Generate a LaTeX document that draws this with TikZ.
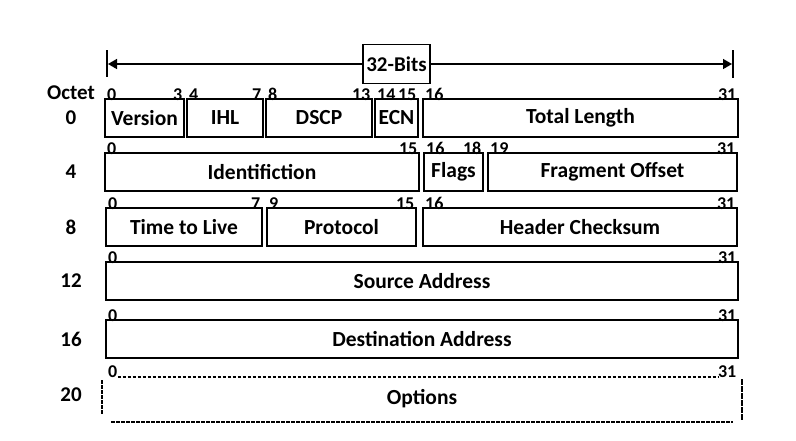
\documentclass[tikz,border=0pt]{standalone}
\usepackage{fontspec}
\setmainfont{Carlito}
\usetikzlibrary{arrows.meta,positioning}

\tikzset{
  field/.style={draw, line width=1.5pt, anchor=north west, minimum height=38,
    inner sep=0, outer sep=0, font=\fontsize{21.5}{24}\selectfont\bfseries},
  bitnum/.style={inner sep=0, yshift=-1, font=\fontsize{18}{21}\selectfont\bfseries},
  bitlo/.style={bitnum, anchor=base west, xshift=2},
  bithi/.style={bitnum, anchor=base east, xshift=-1.5},
  octet/.style={font=\fontsize{21}{24}\selectfont\bfseries},
  optside/.style={line width=1.4pt, dash pattern=on 3.5pt off 1.5pt},
}

\begin{document}
\begin{tikzpicture}[x=1pt,y=-1pt]
	\useasboundingbox (0,0) rectangle (796,440);
	
	% word width arrow
	\coordinate (bitsl) at (108,64);
	\coordinate (bitsr) at (732,64);
	\draw[{Triangle[length=9pt,width=10pt]}-{Triangle[length=9pt,width=10pt]}, line width=1.5pt] (bitsl) -- (bitsr);
	\draw[line width=2.5pt] (bitsl) ++(-1,-14) -- ++(0,27);
	\draw[line width=2.5pt] (bitsr) ++(1,-14) -- ++(0,28);
	\node[draw, fill=white, line width=1.5pt, minimum width=67, minimum height=39, inner sep=0,
		font=\fontsize{21}{24}\selectfont\bfseries] (bits) at (396.5,64) {32-Bits};
	
	% octet column
	\node[octet] (oct) at (71,93) {Octet};
	\foreach \o/\y in {0/118,4/172,8/227,12/281,16/339,20/395}
		\node[octet] (oct\o) at (71,\y) {\o};
	
	% header fields
	\foreach \nm/\xa/\xb/\ya/\txt/\lo/\hi in {
		ver/105/184/99/Version/0/3, ihl/187/263/99/IHL/4/7,
		dscp/266/372/99/DSCP/8/13, ecn/375/418/99/ECN/14/15,
		tlen/423/738/99/Total Length/16/31,
		ident/105/419/153/Identifiction/0/15, flags/424/483/153/Flags/16/18,
		frag/488/737/153/Fragment Offset/19/31,
		ttl/106/262/208/Time to Live/0/7, proto/267/416/208/Protocol/9/15,
		hcs/423/737/208/Header Checksum/16/31,
		src/106/738/262/Source Address/0/31,
		dst/106/738/320/Destination Address/0/31}
	{
		\node[field, minimum width=\xb-\xa] (\nm) at (\xa,\ya) {\txt};
		\node[bitlo] (\nm lo) at (\nm.north west) {\lo};
		\node[bithi] (\nm hi) at (\nm.north east) {\hi};
	}
	
	% options (dashed)
	\node[field, draw=none, minimum width=632, minimum height=46] (opts) at (106,376) {Options};
	\node[bitlo] (optslo) at (opts.north west) {0};
	\node[bithi] (optshi) at (opts.north east) {31};
	\draw[optside] (optslo.base east) -- (optshi.base west);
	\draw[optside] ([xshift=-4,yshift=-4]opts.north west) -- ([xshift=-4,yshift=7]opts.south west);
	\draw[optside, dash pattern=on 6pt off 1pt] ([xshift=4,yshift=-3]opts.north east) -- ([xshift=4,yshift=1]opts.south east);
	\draw[optside] ([xshift=5]opts.south west) -- ([xshift=-5]opts.south east);
	
\end{tikzpicture}
\end{document}
